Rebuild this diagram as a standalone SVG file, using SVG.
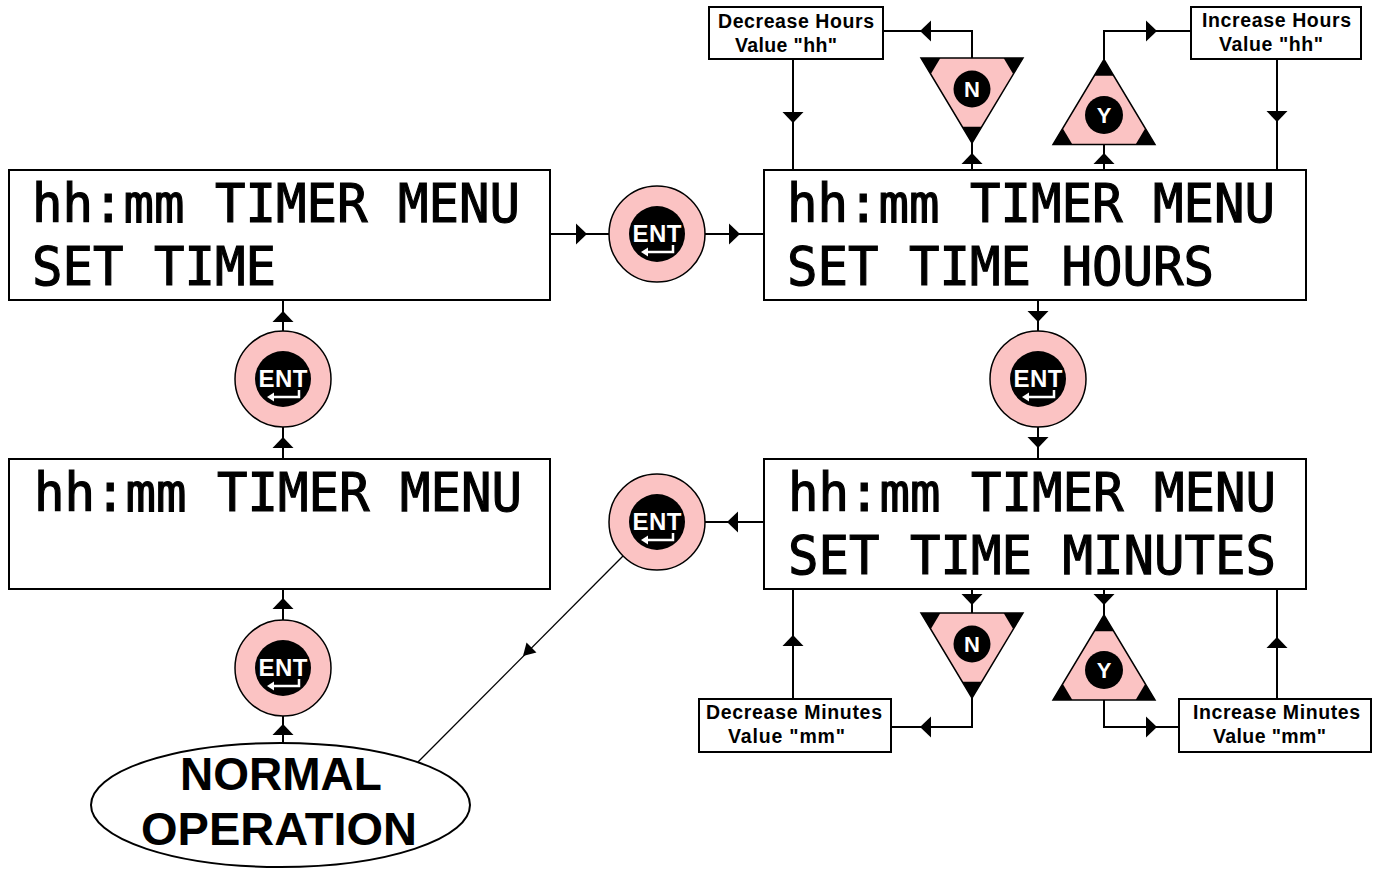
<svg xmlns="http://www.w3.org/2000/svg" xmlns:xlink="http://www.w3.org/1999/xlink" width="1379" height="870" viewBox="0 0 1379 870">
<style>
.box{fill:#fff;stroke:#000;stroke-width:2}
.lcd{font-family:"DejaVu Sans Mono","Liberation Mono",monospace;font-size:54px;fill:#000;stroke:#000;stroke-width:1.2}
.lbl{font-family:"Liberation Sans",Arial,sans-serif;font-weight:bold;font-size:19.5px;fill:#000}
.big{font-family:"Liberation Sans",Arial,sans-serif;font-weight:bold;font-size:46px;fill:#000;text-anchor:middle}
.ln{stroke:#000;stroke-width:2;fill:none}
.thin{stroke:#000;stroke-width:1.3;fill:none}
.pink{fill:#FBC3C3;stroke:#000;stroke-width:1.5}
.ent{font-family:"Liberation Sans",Arial,sans-serif;font-weight:bold;font-size:24px;fill:#fff;text-anchor:middle}
.key{font-family:"Liberation Sans",Arial,sans-serif;font-weight:bold;font-size:22px;fill:#fff;text-anchor:middle}
.ret{stroke:#fff;stroke-width:2.5;fill:none}
</style>
<defs>
<path id="ar" d="M0,0 L-11,-10.5 L-11,10.5 Z" fill="#000"/>
<path id="ars" d="M0,0 L-12,-7 L-12,7 Z" fill="#000"/>
<g id="tri">
<polygon points="-51,-42.5 51,-42.5 0,42.5" class="pink"/>
<polygon points="-51,-42.5 -31.6,-42.5 -41.3,-26.3" fill="#000"/>
<polygon points="51,-42.5 31.6,-42.5 41.3,-26.3" fill="#000"/>
<polygon points="0,42.5 -9.7,26.3 9.7,26.3" fill="#000"/>
</g>
</defs>
<rect width="1379" height="870" fill="#fff"/>

<g id="connectors">
<line class="ln" x1="550" y1="234" x2="610" y2="234"/><use href="#ar" transform="translate(587,234)"/>
<line class="ln" x1="704" y1="234" x2="764" y2="234"/><use href="#ar" transform="translate(740,234)"/>
<line class="ln" x1="1038" y1="300" x2="1038" y2="331"/><use href="#ar" transform="translate(1038,322) rotate(90)"/>
<line class="ln" x1="1038" y1="427" x2="1038" y2="459"/><use href="#ar" transform="translate(1038,448) rotate(90)"/>
<line class="ln" x1="764" y1="522" x2="704" y2="522"/><use href="#ar" transform="translate(727,522) rotate(180)"/>
<line class="thin" x1="624" y1="555" x2="418" y2="762"/><use href="#ars" transform="translate(523,656) rotate(135)"/>
<line class="ln" x1="283" y1="743" x2="283" y2="715"/><use href="#ar" transform="translate(283,724) rotate(-90)"/>
<line class="ln" x1="283" y1="620" x2="283" y2="589"/><use href="#ar" transform="translate(283,598) rotate(-90)"/>
<line class="ln" x1="283" y1="459" x2="283" y2="427"/><use href="#ar" transform="translate(283,437) rotate(-90)"/>
<line class="ln" x1="283" y1="331" x2="283" y2="300"/><use href="#ar" transform="translate(283,311) rotate(-90)"/>
<polyline class="ln" points="883,31 972,31 972,58"/><use href="#ar" transform="translate(920,31) rotate(180)"/>
<line class="ln" x1="793" y1="59" x2="793" y2="170"/><use href="#ar" transform="translate(793,123) rotate(90)"/>
<line class="ln" x1="972" y1="143" x2="972" y2="170"/><use href="#ar" transform="translate(972,153) rotate(-90)"/>
<polyline class="ln" points="1104,60 1104,31 1190,31"/><use href="#ar" transform="translate(1157,31)"/>
<line class="ln" x1="1104" y1="144" x2="1104" y2="170"/><use href="#ar" transform="translate(1104,153) rotate(-90)"/>
<line class="ln" x1="1277" y1="59" x2="1277" y2="170"/><use href="#ar" transform="translate(1277,122) rotate(90)"/>
<line class="ln" x1="972" y1="589" x2="972" y2="613"/><use href="#ar" transform="translate(972,605) rotate(90)"/>
<polyline class="ln" points="972,698 972,727 891,727"/><use href="#ar" transform="translate(920,727) rotate(180)"/>
<line class="ln" x1="793" y1="699" x2="793" y2="589"/><use href="#ar" transform="translate(793,635) rotate(-90)"/>
<line class="ln" x1="1104" y1="589" x2="1104" y2="615"/><use href="#ar" transform="translate(1104,605) rotate(90)"/>
<polyline class="ln" points="1104,700 1104,727 1179,727"/><use href="#ar" transform="translate(1157,727)"/>
<line class="ln" x1="1277" y1="699" x2="1277" y2="589"/><use href="#ar" transform="translate(1277,637) rotate(-90)"/>
</g>

<g id="lcd-set-time">
<rect class="box" x="9" y="170" width="541" height="130"/>
<text class="lcd" x="32" y="222" textLength="488" lengthAdjust="spacingAndGlyphs">hh:mm TIMER MENU</text>
<text class="lcd" x="32" y="285" textLength="244" lengthAdjust="spacingAndGlyphs">SET TIME</text>
</g>
<g id="lcd-set-hours">
<rect class="box" x="764" y="170" width="542" height="130"/>
<text class="lcd" x="787" y="222" textLength="488" lengthAdjust="spacingAndGlyphs">hh:mm TIMER MENU</text>
<text class="lcd" x="787" y="285" textLength="427" lengthAdjust="spacingAndGlyphs">SET TIME HOURS</text>
</g>
<g id="lcd-timer-menu">
<rect class="box" x="9" y="459" width="541" height="130"/>
<text class="lcd" x="34" y="511" textLength="488" lengthAdjust="spacingAndGlyphs">hh:mm TIMER MENU</text>
</g>
<g id="lcd-set-minutes">
<rect class="box" x="764" y="459" width="542" height="130"/>
<text class="lcd" x="788" y="511" textLength="488" lengthAdjust="spacingAndGlyphs">hh:mm TIMER MENU</text>
<text class="lcd" x="788" y="574" textLength="488" lengthAdjust="spacingAndGlyphs">SET TIME MINUTES</text>
</g>

<g id="ent1" transform="translate(657,234)">
<circle r="48" class="pink"/><circle r="28" fill="#000"/>
<text class="ent" y="8" textLength="49">ENT</text>
<path class="ret" d="M16,11 V18 H-10"/><path d="M-16,18 L-9,13.5 L-9,22.5 Z" fill="#fff"/>
</g>
<g id="ent2" transform="translate(283,379)">
<circle r="48" class="pink"/><circle r="28" fill="#000"/>
<text class="ent" y="8" textLength="49">ENT</text>
<path class="ret" d="M16,11 V18 H-10"/><path d="M-16,18 L-9,13.5 L-9,22.5 Z" fill="#fff"/>
</g>
<g id="ent3" transform="translate(1038,379)">
<circle r="48" class="pink"/><circle r="28" fill="#000"/>
<text class="ent" y="8" textLength="49">ENT</text>
<path class="ret" d="M16,11 V18 H-10"/><path d="M-16,18 L-9,13.5 L-9,22.5 Z" fill="#fff"/>
</g>
<g id="ent4" transform="translate(657,522)">
<circle r="48" class="pink"/><circle r="28" fill="#000"/>
<text class="ent" y="8" textLength="49">ENT</text>
<path class="ret" d="M16,11 V18 H-10"/><path d="M-16,18 L-9,13.5 L-9,22.5 Z" fill="#fff"/>
</g>
<g id="ent5" transform="translate(283,668)">
<circle r="48" class="pink"/><circle r="28" fill="#000"/>
<text class="ent" y="8" textLength="49">ENT</text>
<path class="ret" d="M16,11 V18 H-10"/><path d="M-16,18 L-9,13.5 L-9,22.5 Z" fill="#fff"/>
</g>

<g id="no-hours">
<use href="#tri" transform="translate(972,100.5)"/>
<circle cx="972" cy="89" r="18.5" fill="#000"/>
<text class="key" x="972" y="97">N</text>
</g>
<g id="yes-hours">
<use href="#tri" transform="translate(1104,102) rotate(180)"/>
<circle cx="1104" cy="115" r="19" fill="#000"/>
<text class="key" x="1104" y="123">Y</text>
</g>
<g id="no-minutes">
<use href="#tri" transform="translate(972,655.5)"/>
<circle cx="972" cy="644" r="18.5" fill="#000"/>
<text class="key" x="972" y="652">N</text>
</g>
<g id="yes-minutes">
<use href="#tri" transform="translate(1104,657.5) rotate(180)"/>
<circle cx="1104" cy="670" r="19" fill="#000"/>
<text class="key" x="1104" y="678">Y</text>
</g>

<g id="dec-hours">
<rect class="box" x="709" y="7" width="174" height="52"/>
<text class="lbl" x="718" y="28" textLength="156">Decrease Hours</text>
<text class="lbl" x="735" y="52" textLength="102">Value "hh"</text>
</g>
<g id="inc-hours">
<rect class="box" x="1191" y="7" width="170" height="52"/>
<text class="lbl" x="1202" y="27" textLength="149">Increase Hours</text>
<text class="lbl" x="1219" y="51" textLength="104">Value "hh"</text>
</g>
<g id="dec-minutes">
<rect class="box" x="699" y="699" width="192" height="53"/>
<text class="lbl" x="706" y="719" textLength="176">Decrease Minutes</text>
<text class="lbl" x="728" y="743" textLength="117">Value "mm"</text>
</g>
<g id="inc-minutes">
<rect class="box" x="1179" y="699" width="192" height="53"/>
<text class="lbl" x="1193" y="719" textLength="167">Increase Minutes</text>
<text class="lbl" x="1213" y="743" textLength="113">Value "mm"</text>
</g>

<g id="normal-operation">
<ellipse cx="280.5" cy="805" rx="189.5" ry="62" fill="#fff" stroke="#000" stroke-width="2"/>
<text class="big" x="281" y="790">NORMAL</text>
<text class="big" x="279" y="845" style="font-size:47px">OPERATION</text>
</g>
</svg>
